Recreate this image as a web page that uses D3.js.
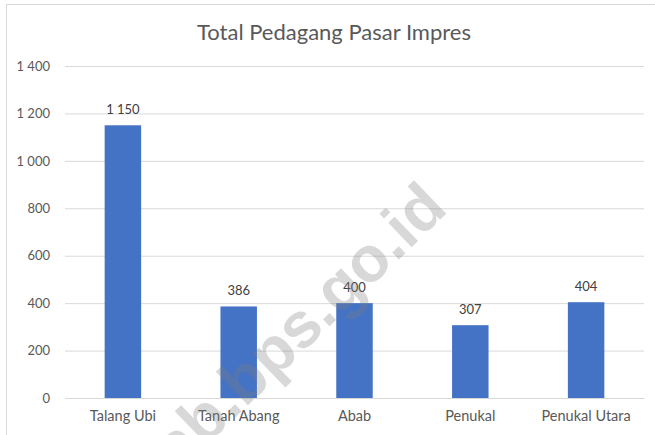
<!DOCTYPE html>
<html>
<head>
<meta charset="utf-8">
<script src="https://cdn.jsdelivr.net/npm/d3@7"></script>
<style>
  html, body { margin: 0; padding: 0; background: #fff; }
  #chart { width: 655px; height: 435px; }
  text { font-family: Lato, "Open Sans", sans-serif; }
</style>
</head>
<body>
<div id="chart"></div>
<script>
// data
const categories = ["Talang Ubi", "Tanah Abang", "Abab", "Penukal", "Penukal Utara"];
const values = [1150, 386, 400, 307, 404];
const yTicks = [0, 200, 400, 600, 800, 1000, 1200, 1400];
const chartTitle = "Total Pedagang Pasar Impres";
const watermark = "pab.bps.go.id";

const width = 655, height = 435;
const margin = { top: 66, right: 11, bottom: 37, left: 65 };

const svg = d3.select("#chart").append("svg")
    .attr("width", width)
    .attr("height", height);

svg.append("rect")
    .attr("width", width).attr("height", height)
    .attr("fill", "#fff");

// outer frame (only left / top visible in the crop)
svg.append("rect")
    .attr("x", 6.5).attr("y", 4.5)
    .attr("width", width + 20).attr("height", height + 20)
    .attr("fill", "none")
    .attr("stroke", "#d9d9d9");

const fmt = d3.formatLocale({ decimal: ",", thousands: " ", grouping: [3], currency: ["", ""] }).format(",d");

const x = d3.scaleBand()
    .domain(categories)
    .range([margin.left, width - margin.right])
    .paddingInner(0.685)
    .paddingOuter(0.3425);

const y = d3.scaleLinear()
    .domain([0, 1400])
    .range([height - margin.bottom, margin.top]);

// title
svg.append("text")
    .attr("x", 334).attr("y", 40)
    .attr("text-anchor", "middle")
    .style("font-size", "22px")
    .style("fill", "#595959")
    .text(chartTitle);

// gridlines + y labels
const yAxis = svg.append("g")
    .attr("transform", `translate(${margin.left},0)`)
    .call(d3.axisLeft(y).tickValues(yTicks)
        .tickSize(-(width - margin.left - margin.right))
        .tickPadding(15)
        .tickFormat(fmt));
yAxis.select(".domain").remove();
yAxis.selectAll("line").attr("stroke", "#d9d9d9");
yAxis.selectAll("text")
    .style("font-size", "13px")
    .style("fill", "#595959")
    .style("font-family", "Lato, 'Open Sans', sans-serif");

// bars
svg.selectAll(".bar")
    .data(categories)
    .enter().append("rect")
    .attr("class", "bar")
    .attr("x", d => x(d))
    .attr("y", (d, i) => y(values[i]))
    .attr("width", x.bandwidth())
    .attr("height", (d, i) => y(0) - y(values[i]))
    .attr("fill", "#4472c4");

// value labels
svg.selectAll(".val")
    .data(categories)
    .enter().append("text")
    .attr("class", "val")
    .attr("x", d => x(d) + x.bandwidth() / 2)
    .attr("y", (d, i) => y(values[i]) - 11)
    .attr("text-anchor", "middle")
    .style("font-size", "13px")
    .style("fill", "#404040")
    .text((d, i) => fmt(values[i]));

// x labels
const xAxis = svg.append("g")
    .attr("transform", `translate(0,${y(0)})`)
    .call(d3.axisBottom(x).tickSize(0).tickPadding(13));
xAxis.select(".domain").attr("stroke", "#d9d9d9");
xAxis.selectAll("text")
    .style("font-size", "14.5px")
    .style("fill", "#595959")
    .style("font-family", "Lato, 'Open Sans', sans-serif");

// watermark (cut by the bottom edge, as in the source image)
svg.append("text")
    .attr("transform", "translate(288,343) rotate(-44)")
    .attr("text-anchor", "middle")
    .attr("dominant-baseline", "middle")
    .style("font-family", "'Liberation Sans', Arial, sans-serif")
    .style("font-size", "64px")
    .style("font-weight", "bold")
    .style("fill", "#7f7f7f")
    .style("opacity", 0.3)
    .text(watermark);
</script>
</body>
</html>
